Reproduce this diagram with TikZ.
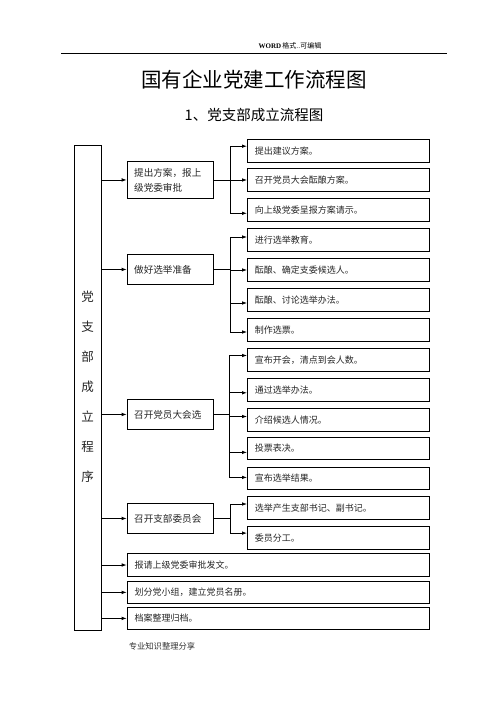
\documentclass[tikz,border=0pt]{standalone}
\usepackage{fontspec}
\setmainfont{Liberation Serif}
\newfontfamily\cjk{Noto Sans CJK SC}
\usetikzlibrary{arrows.meta,calc}
\begin{document}
\begin{tikzpicture}[x=1pt,y=-1pt,
  every node/.style={inner sep=0pt},
  frame/.style={draw,line width=0.9pt},
  lvtwo/.style={frame,anchor=north west,minimum width=86pt,text width=72pt,inner xsep=7pt,align=left,
    font=\cjk\fontsize{9.6}{15}\selectfont,text=black!85},
  rbox/.style={frame,anchor=north west,minimum width=182pt,minimum height=22.5pt,text width=167pt,inner xsep=7.5pt,align=left,
    font=\cjk\fontsize{9}{11}\selectfont,text=black!85},
  wbox/.style={frame,anchor=north west,minimum width=302pt,minimum height=22.5pt,text width=287pt,inner xsep=7.5pt,align=left,
    font=\cjk\fontsize{9}{11}\selectfont,text=black!85},
  link/.style={line width=0.8pt},
  arr/.style={link,-{Latex[length=5pt,width=3.6pt]}}]
\useasboundingbox (0,0) rectangle (500,706);
% header
\node (hdr) at (290,46) {\fontsize{7}{8}\selectfont\textbf{WORD}\,{\cjk 格式..可编辑}};
\coordinate (hl) at (61,53.3);
\coordinate (hr) at (447,53.3);
\draw[line width=0.8pt] (hl) -- (hr);
\node (title) at (254,80) {\cjk\fontsize{20.5}{24}\selectfont 国有企业党建工作流程图};
\node (sub) at (254,115) {\cjk\fontsize{14.5}{17}\selectfont 1、党支部成立流程图};
% left tall box
\node[frame,anchor=north west,minimum width=26.5pt,minimum height=485pt] (L) at (74,145) {};
\node[font=\cjk\fontsize{12.5}{30}\selectfont,align=center,text=black!85] (Lt) at (87.5,387) {党\\支\\部\\成\\立\\程\\序};
% level-2 boxes
\node[lvtwo,minimum height=37pt] (b1) at (126.7,161) {提出方案，报上\\级党委审批};
\node[lvtwo,minimum height=30pt] (b2) at (126.7,254) {做好选举准备};
\node[lvtwo,minimum height=30pt] (b3) at (126.7,399) {召开党员大会选};
\node[lvtwo,minimum height=30pt] (b4) at (126.7,503) {召开支部委员会};
% right boxes
\node[rbox] (r1) at (247,139.3) {提出建议方案。};
\node[rbox] (r2) at (247,168.3) {召开党员大会酝酿方案。};
\node[rbox] (r3) at (247,198.3) {向上级党委呈报方案请示。};
\node[rbox] (r4) at (247,228.3) {进行选举教育。};
\node[rbox] (r5) at (247,258.3) {酝酿、确定支委候选人。};
\node[rbox] (r6) at (247,288.3) {酝酿、讨论选举办法。};
\node[rbox] (r7) at (247,318.3) {制作选票。};
\node[rbox] (r8) at (247,348.3) {宣布开会，清点到会人数。};
\node[rbox] (r9) at (247,378.3) {通过选举办法。};
\node[rbox] (r10) at (247,408.3) {介绍候选人情况。};
\node[rbox] (r11) at (247,436.7) {投票表决。};
\node[rbox] (r12) at (247,466.7) {宣布选举结果。};
\node[rbox] (r13) at (247,496) {选举产生支部书记、副书记。};
\node[rbox] (r14) at (247,526) {委员分工。};
% wide bottom boxes
\node[wbox] (w1) at (126.7,553.3) {报请上级党委审批发文。};
\node[wbox] (w2) at (126.7,580.7) {划分党小组，建立党员名册。};
\node[wbox] (w3) at (126.7,606.7) {档案整理归档。};
% footer
\node[font=\cjk\fontsize{8.3}{10}\selectfont,text=black!80] (ftr) at (162,646) {专业知识整理分享};
% arrows from left box
\foreach \n in {b1,b2,b3,b4,w1,w2,w3} \draw[arr] (L.east |- \n.west) -- (\n.west);
% trunks
\coordinate (t1) at ([xshift=16.5pt]b1.east);
\coordinate (t2) at ([xshift=16.5pt]b2.east);
\coordinate (t3) at ([xshift=16pt]b3.east);
\coordinate (t4) at ([xshift=16.5pt]b4.east);
\draw[link] (b1.east) -- (t1);
\draw[link] (b2.east) -- (t2);
\draw[link] (b3.east) -- (t3);
\draw[link] (b4.east) -- (t4);
\draw[arr] (t1) |- ([yshift=4.8pt]r1.west);
\draw[arr] (t1) |- (r2.west);
\draw[arr] (t1) |- ([yshift=-3.3pt]r3.west);
\draw[arr] (t2) |- ([yshift=3pt]r4.west);
\draw[arr] (t2) |- (r5.west);
\draw[arr] (t2) |- ([yshift=-3pt]r6.west);
\draw[arr] (t2) |- ([yshift=-2pt]r7.west);
\draw[arr] (t3) |- ([yshift=4.5pt]r8.west);
\draw[arr] (t3) |- ([yshift=-2.8pt]r9.west);
\draw[arr] (t3) |- ([yshift=3.5pt]r10.west);
\draw[arr] (t3) |- ([yshift=-4pt]r11.west);
\draw[arr] (t3) |- ([yshift=1pt]r12.west);
\draw[arr] (t4) |- ([yshift=3.7pt]r13.west);
\draw[arr] (t4) |- ([yshift=4.6pt]r14.west);
\end{tikzpicture}
\end{document}
